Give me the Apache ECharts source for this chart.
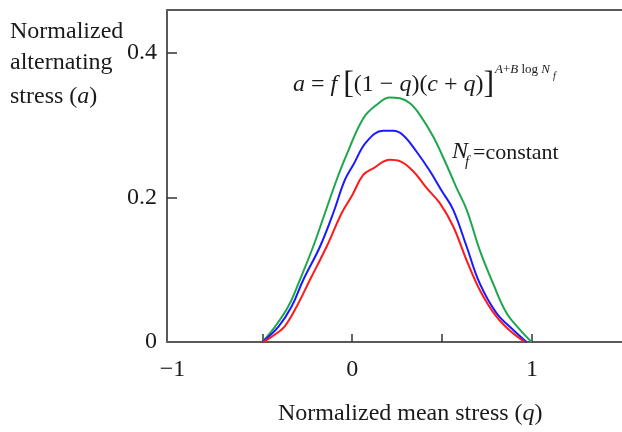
<!DOCTYPE html>
<html>
<head>
<meta charset="utf-8">
<script src="https://cdn.jsdelivr.net/npm/echarts@6/dist/echarts.min.js"></script>
<style>
html,body{margin:0;padding:0;background:#fff;}
#chart{width:622px;height:432px;}
</style>
</head>
<body>
<div id="chart"></div>
<script>
// Normalized mean stress (q) and normalized alternating stress (a)
var greenQ = [-0.50,-0.43,-0.356,-0.291,-0.217,-0.152,-0.087,-0.031,0.061,0.136,0.209,0.265,0.321,0.376,0.45,0.524,0.58,0.636,0.709,0.783,0.858,0.932,0.997];
var greenA = [0,0.021,0.049,0.086,0.132,0.178,0.224,0.259,0.309,0.328,0.338,0.337,0.330,0.314,0.284,0.245,0.213,0.183,0.127,0.081,0.040,0.017,0];
var blueQ = [-0.50,-0.411,-0.337,-0.272,-0.179,-0.106,-0.041,0.006,0.08,0.172,0.228,0.283,0.358,0.43,0.50,0.561,0.636,0.709,0.802,0.894,0.969];
var blueA = [0,0.021,0.049,0.086,0.132,0.178,0.224,0.245,0.277,0.292,0.292,0.286,0.263,0.237,0.208,0.183,0.132,0.081,0.040,0.017,0];
var redQ = [-0.496,-0.475,-0.42,-0.374,-0.309,-0.235,-0.142,-0.059,0.0,0.061,0.117,0.209,0.265,0.339,0.413,0.487,0.561,0.636,0.709,0.802,0.894,0.96];
var redA = [0,0.003,0.012,0.022,0.049,0.086,0.132,0.178,0.203,0.231,0.240,0.252,0.250,0.236,0.213,0.192,0.160,0.113,0.072,0.035,0.012,0];

var xTickValues = [-0.5, 0, 0.5, 1];
var xLabelValues = [-1, 0, 1];
var yTickValues = [0.2, 0.4];
var yLabelValues = [0, 0.2, 0.4];

function pairs(q, a) { return q.map(function (v, i) { return [v, a[i]]; }); }

var FONT = '"Liberation Serif","Times New Roman",serif';
var axisColor = '#5a5a5a';

var chart = echarts.init(document.getElementById('chart'), null, {renderer: 'canvas'});
chart.setOption({
  animation: false,
  backgroundColor: '#ffffff',
  grid: {left: 167, right: 0, top: 10, bottom: 90, containLabel: false, outerBoundsMode: 'none'},
  xAxis: [{
    type: 'value', min: -1.03, max: 1.5,
    axisLine: {show: true, onZero: false, lineStyle: {color: axisColor, width: 2}},
    axisTick: {show: true, inside: true, length: 8, customValues: xTickValues, lineStyle: {color: '#333', width: 1.5}},
    axisLabel: {show: true, customValues: xLabelValues, margin: 16, fontFamily: FONT, fontSize: 24, color: '#1a1a1a',
      formatter: function (v) { return v < 0 ? '\u2212' + Math.abs(v) : String(v); }},
    splitLine: {show: false}
  }, {
    type: 'value', min: -1.03, max: 1.5, position: 'top',
    axisLine: {show: true, onZero: false, lineStyle: {color: axisColor, width: 2}},
    axisTick: {show: false}, axisLabel: {show: false}, splitLine: {show: false}
  }],
  yAxis: {
    type: 'value', min: 0, max: 0.459,
    axisLine: {show: true, onZero: false, lineStyle: {color: axisColor, width: 2}},
    axisTick: {show: true, inside: true, length: 10, customValues: yTickValues, lineStyle: {color: '#333', width: 1.5}},
    axisLabel: {show: true, customValues: yLabelValues, margin: 10, fontFamily: FONT, fontSize: 24, color: '#1a1a1a',
      formatter: function (v) { return v === 0 ? '0' : v.toFixed(1); }},
    splitLine: {show: false}
  },
  series: [
    {type: 'line', data: pairs(greenQ, greenA), showSymbol: false, smooth: 0.4, lineStyle: {color: '#1ea64f', width: 2}, itemStyle: {color: '#1ea64f'}},
    {type: 'line', data: pairs(blueQ, blueA), showSymbol: false, smooth: 0.4, lineStyle: {color: '#1a1aff', width: 2}, itemStyle: {color: '#1a1aff'}},
    {type: 'line', data: pairs(redQ, redA), showSymbol: false, smooth: 0.4, lineStyle: {color: '#ff1a1a', width: 2}, itemStyle: {color: '#ff1a1a'}}
  ],
  graphic: [
    {type: 'text', left: 10, top: 20, style: {text: 'Normalized', font: '24px ' + FONT, fill: '#1a1a1a'}},
    {type: 'text', left: 10, top: 51, style: {text: 'alternating', font: '24px ' + FONT, fill: '#1a1a1a'}},
    {type: 'text', x: 10, y: 97, style: {
      text: '{n|stress (}{i|a}{n|)}', verticalAlign: 'middle', fill: '#1a1a1a',
      rich: {n: {fontFamily: FONT, fontSize: 24}, i: {fontFamily: FONT, fontSize: 24, fontStyle: 'italic'}}}},
    {type: 'text', x: 278, y: 414, style: {
      text: '{n|Normalized mean stress (}{i|q}{n|)}', verticalAlign: 'middle', fill: '#1a1a1a',
      rich: {n: {fontFamily: FONT, fontSize: 24}, i: {fontFamily: FONT, fontSize: 24, fontStyle: 'italic'}}}},
    {type: 'text', x: 293, y: 85, style: {
      text: '{i|a}{n| = }{i|f}{n| }{b|[}{n|(1 \u2212 }{i|q}{n|)(}{i|c}{n| + }{i|q}{n|)}{b|]}', verticalAlign: 'middle', fill: '#1a1a1a',
      rich: {n: {fontFamily: FONT, fontSize: 24}, i: {fontFamily: FONT, fontSize: 24, fontStyle: 'italic'}, b: {fontFamily: FONT, fontSize: 32}}}},
    {type: 'text', x: 495, y: 70, style: {
      text: '{i|A}{n|+}{i|B}{n| log }{i|N}', verticalAlign: 'middle', fill: '#1a1a1a',
      rich: {n: {fontFamily: FONT, fontSize: 13}, i: {fontFamily: FONT, fontSize: 13, fontStyle: 'italic'}}}},
    {type: 'text', x: 553, y: 76, style: {text: 'f', font: 'italic 10px ' + FONT, verticalAlign: 'middle', fill: '#1a1a1a'}},
    {type: 'text', x: 452, y: 152, style: {text: 'N', font: 'italic 24px ' + FONT, verticalAlign: 'middle', fill: '#1a1a1a'}},
    {type: 'text', x: 465, y: 162, style: {text: 'f', font: 'italic 15px ' + FONT, verticalAlign: 'middle', fill: '#1a1a1a'}},
    {type: 'text', x: 473, y: 153, style: {text: '=constant', font: '22px ' + FONT, verticalAlign: 'middle', fill: '#1a1a1a'}}
  ]
});
</script>
</body>
</html>
